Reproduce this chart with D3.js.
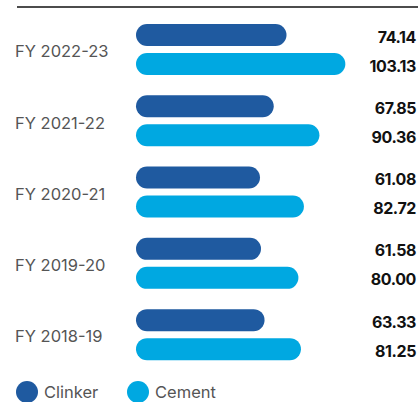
<!DOCTYPE html>
<html>
<head>
<meta charset="utf-8">
<script src="https://cdn.jsdelivr.net/npm/d3@7"></script>
<style>
  body { margin: 0; background: #fff; }
  svg { display: block; }
</style>
</head>
<body>
<div id="chart"></div>
<script>
var w = 420;
var h = 402;

// data
var years = ["FY 2022-23", "FY 2021-22", "FY 2020-21", "FY 2019-20", "FY 2018-19"];
var series = ["Clinker", "Cement"];
var clinker = [74.14, 67.85, 61.08, 61.58, 63.33];
var cement = [103.13, 90.36, 82.72, 80.00, 81.25];

var colors = { "Clinker": "#1f5aa0", "Cement": "#00a8e1" };

var rows = years.map(function (y, i) {
    return { year: y, Clinker: clinker[i], Cement: cement[i] };
});

var svg = d3.select("#chart")
    .append("svg")
    .attr("width", w)
    .attr("height", h);

var fontFam = "Inter, 'Open Sans', sans-serif";

// top rule
svg.append("line")
    .attr("x1", 17).attr("x2", 418)
    .attr("y1", 7).attr("y2", 7)
    .attr("stroke", "#111")
    .attr("stroke-width", 1.6);

var x = d3.scaleLinear()
    .domain([0, 100])
    .range([136, 339]);

var y = d3.scaleBand()
    .domain(years)
    .range([13.8, 370.3]);

var groupH = 51;
var sub = d3.scaleBand()
    .domain(series)
    .range([0, groupH])
    .paddingInner(0.2414);

var g = svg.selectAll(".grp")
    .data(rows)
    .enter()
    .append("g")
    .attr("class", "grp")
    .attr("transform", function (d) {
        return "translate(0," + (y(d.year) + (y.bandwidth() - groupH) / 2) + ")";
    });

g.append("text")
    .attr("x", 15)
    .attr("y", groupH / 2 + 2)
    .attr("dy", ".35em")
    .attr("font-family", fontFam)
    .attr("font-size", "16.5px")
    .attr("fill", "#555")
    .text(function (d) { return d.year; });

g.selectAll("rect")
    .data(function (d) {
        return series.map(function (s) { return { key: s, value: d[s] }; });
    })
    .enter()
    .append("rect")
    .attr("x", x(0))
    .attr("y", function (d) { return sub(d.key); })
    .attr("width", function (d) { return x(d.value) - x(0); })
    .attr("height", sub.bandwidth())
    .attr("rx", sub.bandwidth() / 2)
    .attr("fill", function (d) { return colors[d.key]; });

g.selectAll(".val")
    .data(function (d) {
        return series.map(function (s) { return { key: s, value: d[s] }; });
    })
    .enter()
    .append("text")
    .attr("class", "val")
    .attr("x", 416)
    .attr("y", function (d) { return sub(d.key) + sub.bandwidth() / 2 + 2; })
    .attr("dy", ".35em")
    .attr("text-anchor", "end")
    .attr("font-family", fontFam)
    .attr("font-weight", "bold")
    .attr("font-size", "16px")
    .attr("letter-spacing", "-0.4px")
    .attr("fill", "#111")
    .text(function (d) { return d3.format(".2f")(d.value); });

// legend
var legend = svg.selectAll(".legend")
    .data(series)
    .enter()
    .append("g")
    .attr("class", "legend")
    .attr("transform", function (d, i) { return "translate(" + (27 + i * 111) + ",392)"; });

legend.append("circle")
    .attr("r", 11)
    .attr("fill", function (d) { return colors[d]; });

legend.append("text")
    .attr("x", 17)
    .attr("dy", ".35em")
    .attr("font-family", fontFam)
    .attr("font-size", "16.5px")
    .attr("fill", "#555")
    .text(function (d) { return d; });
</script>
</body>
</html>
